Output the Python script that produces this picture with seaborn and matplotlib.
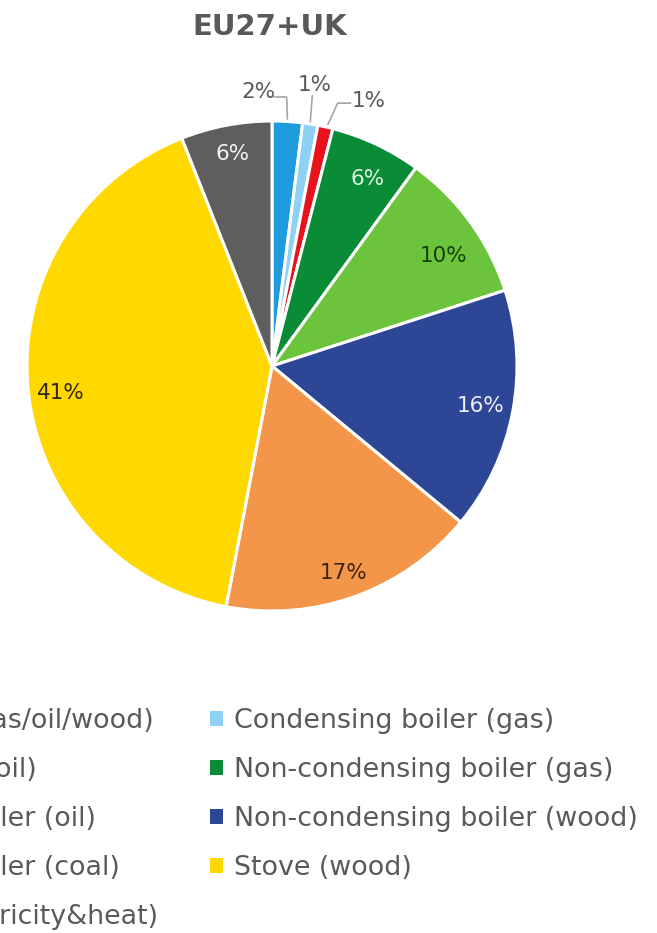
import matplotlib
matplotlib.use("Agg")
import matplotlib.pyplot as plt
import seaborn as sns
import numpy as np
from matplotlib.patches import Patch

# ---- data ----
title = "EU27+UK"
categories = [
    "Automatic boiler (gas/oil/wood)",
    "Condensing boiler (gas)",
    "Condensing boiler (oil)",
    "Non-condensing boiler (gas)",
    "Non-condensing boiler (oil)",
    "Non-condensing boiler (wood)",
    "Non-condensing boiler (coal)",
    "Stove (wood)",
    "Cogeneration (electricity&heat)",
]
shares = [2, 1, 1, 6, 10, 16, 17, 41, 6]

# ---- style ----
colors = ["#1E9CDD", "#8FD0F5", "#E8121C", "#0A8B36", "#6CC43C",
          "#2E4696", "#F4964A", "#FFD800", "#5E5E5E"]
label_colors = ["#595959", "#595959", "#595959", "#DDF3E1", "#173F0A",
                "#EEF0F8", "#3B250F", "#2E2A10", "#F4F4F4"]
# small nudges of the inside labels (radius units)
label_nudge = {3: (0.02, -0.02), 4: (0.0, -0.06), 6: (0.0, -0.03),
               7: (0.0, -0.03), 8: (0.0, 0.015)}
# outside-label placement (offsets from wedge tip, in radius units) for small slices
outside_offsets = {0: (-0.12, 0.12), 1: (0.018, 0.16), 2: (0.178, 0.105)}

sns.set_theme(style="white")
plt.rcParams["font.family"] = ["DejaVu Sans"]

W, H = 657, 933
fig = plt.figure(figsize=(W / 100, H / 100), dpi=100)
fig.patch.set_facecolor("white")

cx, cy, R = 272, 366, 245
ax = fig.add_axes([(cx - R) / W, 1 - (cy + R) / H, 2 * R / W, 2 * R / H])
wedges, _ = ax.pie(shares, colors=colors, startangle=90, counterclock=False,
                   radius=1.0, wedgeprops=dict(edgecolor="white", linewidth=2.2))
ax.set_xlim(-1, 1)
ax.set_ylim(-1, 1)
ax.set_aspect("equal")
ax.axis("off")

lead = dict(color="#A6A6A6", lw=1.2, clip_on=False)
for i, (w, v) in enumerate(zip(wedges, shares)):
    ang = np.deg2rad((w.theta1 + w.theta2) / 2)
    txt = f"{v}%"
    if i in outside_offsets:
        ax0, ay0 = np.cos(ang), np.sin(ang)
        dx, dy = outside_offsets[i]
        lx, ly = ax0 + dx, ay0 + dy
        if i == 0:
            ey = ly - 0.02
            ax.plot([ax0, ax0 - 0.003, lx + 0.065], [ay0 + 0.01, ey, ey], **lead)
        elif i == 1:
            ax.plot([ax0, ax0 + 0.008], [ay0 + 0.01, ly - 0.045], **lead)
        else:
            ey = ly - 0.008
            ax.plot([ax0 + 0.01, ax0 + 0.05, lx - 0.075], [ay0 + 0.01, ey, ey], **lead)
        ax.text(lx, ly, txt, ha="center", va="center", fontsize=15.5,
                color=label_colors[i])
    else:
        r = 0.865
        nx, ny = label_nudge.get(i, (0.0, 0.0))
        ax.text(r * np.cos(ang) + nx, r * np.sin(ang) + ny, txt, ha="center",
                va="center", fontsize=15.5, color=label_colors[i])

fig.text(270 / W, 1 - 27 / H, title, ha="center", va="center", fontsize=21,
         fontweight="bold", color="#595959")

handles = [Patch(facecolor=c, edgecolor="none") for c in colors]
col1 = [0, 2, 4, 6, 8]
col2 = [1, 3, 5, 7]
leg_kw = dict(frameon=False, fontsize=19.4, handlelength=0.5, handleheight=0.48,
              handletextpad=0.4, labelspacing=0.85, borderpad=0, borderaxespad=0,
              labelcolor="#595959")
top_y = 1 - 708 / H
leg1 = fig.legend([handles[i] for i in col1], [categories[i] for i in col1],
                  loc="upper right", bbox_to_anchor=(158 / W, top_y), **leg_kw)
leg2 = fig.legend([handles[i] for i in col2], [categories[i] for i in col2],
                  loc="upper left", bbox_to_anchor=(210 / W, top_y), **leg_kw)

fig.savefig("out.png", dpi=100)
